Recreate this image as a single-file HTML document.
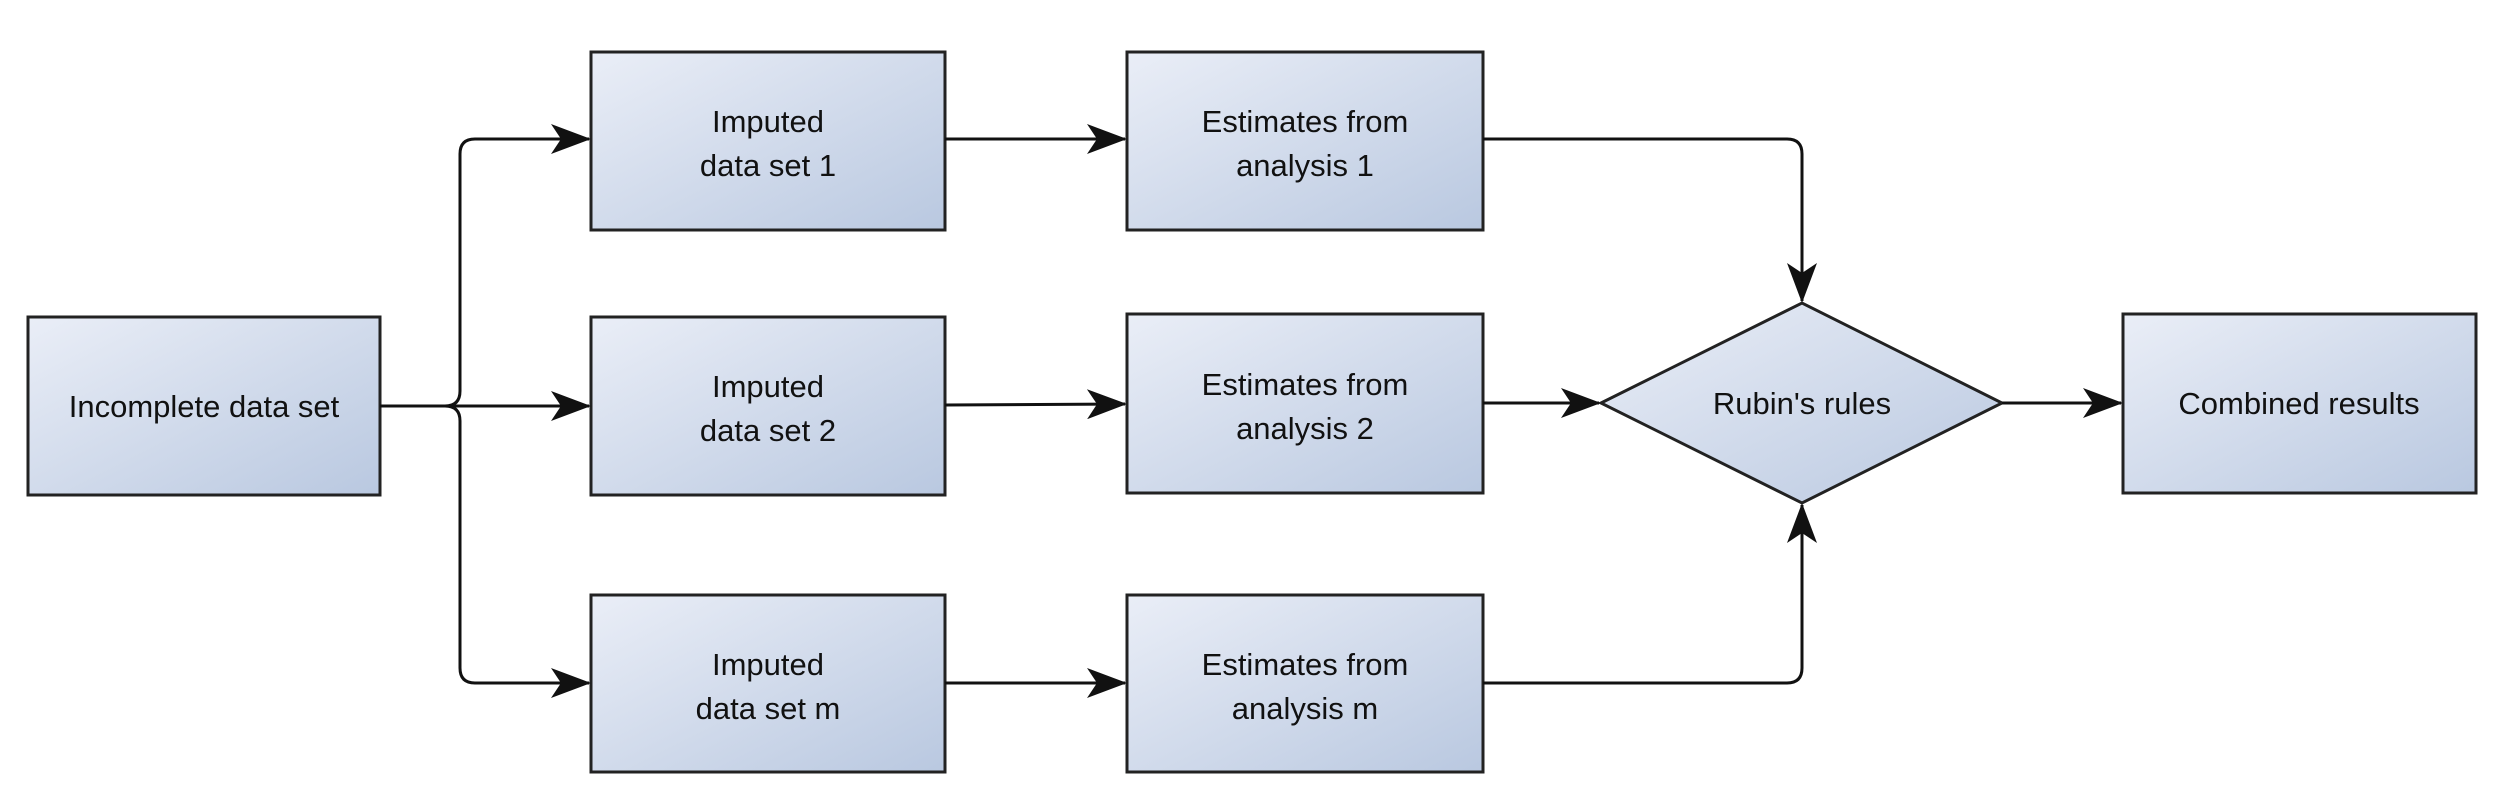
<!DOCTYPE html>
<html><head><meta charset="utf-8"><style>
html,body{margin:0;padding:0;background:#fff;}
svg{display:block;}
text{font-family:"Liberation Sans",sans-serif;font-size:31px;fill:#111;text-anchor:middle;}
</style></head><body>
<svg width="2500" height="803" viewBox="0 0 2500 803" xmlns="http://www.w3.org/2000/svg">
<defs>
<linearGradient id="g" x1="0" y1="0" x2="1" y2="1">
<stop offset="0" stop-color="#eaeef7"/><stop offset="1" stop-color="#b9c8e0"/>
</linearGradient>
<marker id="a" markerWidth="14" markerHeight="12" refX="13" refY="6" orient="auto" markerUnits="userSpaceOnUse" viewBox="0 0 14 12">
<path d="M0,0 L14,6 L0,12 L4,6 Z" fill="#111"/>
</marker>
<marker id="b" viewBox="0 0 40 30" refX="38" refY="15" markerWidth="40" markerHeight="30" orient="auto" markerUnits="userSpaceOnUse">
<path d="M0,0 L40,15 L0,30 L10,15 Z" fill="#111"/>
</marker>
</defs>
<g stroke="#222" stroke-width="3" fill="url(#g)">
<rect x="28" y="317" width="352" height="178"/>
<rect x="591" y="52" width="354" height="178"/>
<rect x="591" y="317" width="354" height="178"/>
<rect x="591" y="595" width="354" height="177"/>
<rect x="1127" y="52" width="356" height="178"/>
<rect x="1127" y="314" width="356" height="179"/>
<rect x="1127" y="595" width="356" height="177"/>
<polygon points="1601,403 1802,303 2002,403 1802,503"/>
<rect x="2123" y="314" width="353" height="179"/>
</g>
<g stroke="#111" stroke-width="3" fill="none">
<path d="M380,406 L445,406 Q460,406 460,391 L460,154 Q460,139 475,139 L589,139" marker-end="url(#b)"/>
<path d="M380,406 L589,406" marker-end="url(#b)"/>
<path d="M380,406 L445,406 Q460,406 460,421 L460,668 Q460,683 475,683 L589,683" marker-end="url(#b)"/>
<path d="M945,139 L1125,139" marker-end="url(#b)"/>
<path d="M945,405 L1125,404" marker-end="url(#b)"/>
<path d="M945,683 L1125,683" marker-end="url(#b)"/>
<path d="M1483,139 L1787,139 Q1802,139 1802,154 L1802,301" marker-end="url(#b)"/>
<path d="M1483,403 L1599,403" marker-end="url(#b)"/>
<path d="M1483,683 L1787,683 Q1802,683 1802,668 L1802,505" marker-end="url(#b)"/>
<path d="M2002,403 L2121,403" marker-end="url(#b)"/>
</g>
<text x="204" y="417">Incomplete data set</text>
<text x="768" y="132">Imputed</text><text x="768" y="176">data set 1</text>
<text x="768" y="397">Imputed</text><text x="768" y="441">data set 2</text>
<text x="768" y="675">Imputed</text><text x="768" y="719">data set m</text>
<text x="1305" y="132">Estimates from</text><text x="1305" y="176">analysis 1</text>
<text x="1305" y="395">Estimates from</text><text x="1305" y="439">analysis 2</text>
<text x="1305" y="675">Estimates from</text><text x="1305" y="719">analysis m</text>
<text x="1802" y="414">Rubin's rules</text>
<text x="2299" y="414">Combined results</text>
</svg>
</body></html>
